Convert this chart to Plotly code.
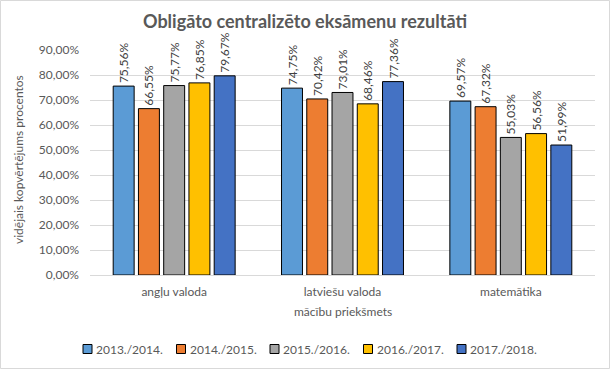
import plotly.graph_objects as go

categories = ["angļu valoda", "latviešu valoda", "matemātika"]
years = ["2013./2014.", "2014./2015.", "2015./2016.", "2016./2017.", "2017./2018."]
values = {
    "2013./2014.": [0.7556, 0.7475, 0.6957],
    "2014./2015.": [0.6655, 0.7042, 0.6732],
    "2015./2016.": [0.7577, 0.7301, 0.5503],
    "2016./2017.": [0.7685, 0.6846, 0.5656],
    "2017./2018.": [0.7967, 0.7736, 0.5199],
}
colors = ["#5B9BD5", "#ED7D31", "#A5A5A5", "#FFC000", "#4472C4"]

W, H = 610, 369
L, R, T, B = 90, 15, 50, 94
pw = W - L - R
ph = H - T - B
FONT = "Lato, Open Sans, sans-serif"


def px_x(x):
    return (x - L) / pw


def px_y(y):
    return (H - B - y) / ph


fig = go.Figure()
for y, c in zip(years, colors):
    fig.add_trace(go.Bar(
        x=categories, y=values[y], name=y,
        marker=dict(color=c, line=dict(color="black", width=1)),
        text=[f"{v*100:.2f}%".replace(".", ",") for v in values[y]],
        textposition="outside", textangle=-90, cliponaxis=False,
        constraintext="none", showlegend=False,
        textfont=dict(family=FONT, size=12, color="#404040"),
    ))

shapes = [dict(type="rect", xref="paper", yref="paper",
               x0=px_x(0.5), x1=px_x(W - 0.5), y0=px_y(H - 0.5), y1=px_y(0.5),
               line=dict(color="#D9D9D9", width=1), layer="below")]
annotations = [
    dict(text="vidējais kopvērtējums procentos", xref="paper", yref="paper",
         x=px_x(18), y=px_y(160), textangle=-90, showarrow=False,
         xanchor="center", yanchor="middle", font=dict(size=12, color="#595959")),
    dict(text="mācību priekšmets", xref="paper", yref="paper",
         x=0.5, y=px_y(311), showarrow=False,
         xanchor="center", yanchor="middle", font=dict(size=12, color="#595959")),
]

# manual legend
leg_start = 83
leg_step = 93.5
leg_y = 349
for i, (y, c) in enumerate(zip(years, colors)):
    x0 = leg_start + i * leg_step
    shapes.append(dict(type="rect", xref="paper", yref="paper",
                       x0=px_x(x0), x1=px_x(x0 + 9), y0=px_y(leg_y + 4.5), y1=px_y(leg_y - 4.5),
                       fillcolor=c, line=dict(color="black", width=1)))
    annotations.append(dict(text=y, xref="paper", yref="paper",
                            x=px_x(x0 + 11), y=px_y(leg_y), showarrow=False,
                            xanchor="left", yanchor="middle",
                            font=dict(size=12, color="#595959")))

fig.update_layout(
    width=W, height=H,
    margin=dict(l=L, r=R, t=T, b=B, autoexpand=False),
    paper_bgcolor="white", plot_bgcolor="white",
    separators=", ",
    barmode="group", bargap=0.25, bargroupgap=0.17,
    font=dict(family=FONT, size=12, color="#595959"),
    title=dict(text="<b>Obligāto centralizēto eksāmenu rezultāti</b>",
               x=0.5, xanchor="center", y=1 - 22 / H, yanchor="middle",
               font=dict(size=18, color="#595959")),
    xaxis=dict(showline=True, linecolor="#D9D9D9", ticks="", tickfont=dict(size=12),
               ticklabelstandoff=6, automargin=False),
    yaxis=dict(range=[0, 0.9], dtick=0.1, tickformat=".2%",
               gridcolor="#D9D9D9", zeroline=False, showline=False,
               ticklabelstandoff=10, tickfont=dict(size=12), automargin=False),
    showlegend=False,
    hovermode=False,
    shapes=shapes, annotations=annotations,
)

fig.write_html("out.html", config={"displayModeBar": False, "staticPlot": True},
               post_script="document.body.style.margin='0';document.body.style.overflow='hidden';")
